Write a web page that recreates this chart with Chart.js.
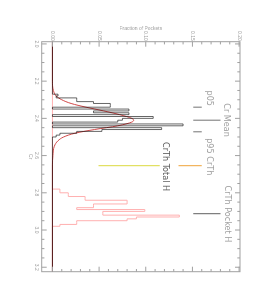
<!DOCTYPE html>
<html>
<head>
<meta charset="utf-8">
<script src="https://cdn.jsdelivr.net/npm/chart.js@4.4.1/dist/chart.umd.min.js"></script>
<style>
html, body { margin: 0; padding: 0; background: #fff; overflow: hidden; }
/* the plot is drawn landscape and turned a quarter clockwise */
#wrap { position: absolute; left: 0; top: 0; width: 300px; height: 273px;
        transform-origin: 0 0; transform: translateX(273px) rotate(90deg); }
</style>
</head>
<body>
<div id="wrap"><canvas id="myChart" width="300" height="273"></canvas></div>
<script>
// histogram bins (0.01 Cr wide)
const binWidth = 0.01;
const crBinStart = 2.27;
const crFraction = [0.006, 0.006, 0.004, 0.026, 0.026, 0.044, 0.062, 0.062, 0.0, 0.082,
                    0.044, 0.082, 0.0, 0.108, 0.075, 0.070, 0.0, 0.140, 0.0, 0.117,
                    0.053, 0.026, 0.008, 0.004];
const pocketBinStart = 2.78;
const pocketFraction = [0.008, 0.008, 0.008, 0.017, 0.017, 0.035, 0.035, 0.080, 0.080, 0.044,
                        0.044, 0.026, 0.099, 0.054, 0.054, 0.136, 0.090, 0.080, 0.026, 0.026,
                        0.008];

// fitted curve (red)
const curveCr       = [1.90, 2.20, 2.25, 2.28, 2.30, 2.32, 2.34, 2.36, 2.38, 2.40, 2.41, 2.42,
                       2.44, 2.46, 2.48, 2.50, 2.52, 2.55, 2.60, 2.65, 3.30];
const curveFraction = [0, 0, 0.001, 0.004, 0.010, 0.020, 0.036, 0.055, 0.072, 0.085, 0.087, 0.085,
                       0.070, 0.045, 0.024, 0.012, 0.006, 0.002, 0.0005, 0, 0];

// marker lines
const markerNames = ['Cr Mean', 'p05', 'p95', 'CrTh', 'CrTh Total H', 'CrTh Pocket H'];
const markerCr    = [2.410, 2.340, 2.472, 2.654, 2.654, 2.912];
const markerLow   = [0.151, 0.151, 0.151, 0.135, 0.0495, 0.151];
const markerHigh  = [0.180, 0.160, 0.160, 0.160, 0.115, 0.180];

// ticks
const crTicks = [2.0, 2.2, 2.4, 2.6, 2.8, 3.0, 3.2];
const fracTicks = [0.00, 0.05, 0.10, 0.15, 0.20];

// where each marker name is written
const labelCr   = [2.409, 2.292, 2.548, 2.655, 2.659, 2.914];
const labelFrac = [0.1866, 0.168, 0.168, 0.168, 0.121, 0.1876];
const markerColors = ['#8a8a8a', '#8a8a8a', '#8a8a8a', '#f2b35a', '#e2df5e', '#7a7a7a'];
const labelColors  = ['#a0a0a0', '#a0a0a0', '#a0a0a0', '#a0a0a0', '#5a5a5a', '#a0a0a0'];

function histPoints(start, values) {
	let pts = [{x: 1.9, y: 0}, {x: start, y: 0}];
	values.forEach(function (v, i) {
		pts.push({x: +(start + i * binWidth).toFixed(3), y: v});
	});
	pts.push({x: +(start + values.length * binWidth).toFixed(3), y: 0});
	pts.push({x: 3.3, y: 0});
	return pts;
}

let datasets = [];
markerNames.forEach(function (n, i) {
	datasets.push({
		label: n,
		data: [{x: markerCr[i], y: markerLow[i]}, {x: markerCr[i], y: markerHigh[i]}],
		borderColor: markerColors[i],
		borderWidth: 1.2,
		pointRadius: 0,
		order: 3
	});
});
datasets.push({
	label: 'Cr',
	data: histPoints(crBinStart, crFraction),
	stepped: 'after',
	borderColor: 'rgba(0,0,0,0.6)',
	borderWidth: 1,
	pointRadius: 0,
	order: 1
});
datasets.push({
	label: 'CrTh pockets',
	data: histPoints(pocketBinStart, pocketFraction),
	stepped: 'after',
	borderColor: '#ffb0b0',
	borderWidth: 1,
	pointRadius: 0,
	order: 4
});
datasets.push({
	label: 'fit',
	data: curveCr.map(function (c, i) { return {x: c, y: curveFraction[i]}; }),
	borderColor: '#d04848',
	borderWidth: 1,
	pointRadius: 0,
	cubicInterpolationMode: 'monotone',
	order: 2
});

const axisGray = '#a0a0a0';

// frame with inward ticks on all four sides, plus the marker names
const idlFrame = {
	id: 'idlFrame',
	afterDatasetsDraw: function (chart) {
		const ctx = chart.ctx, a = chart.chartArea;
		const xs = chart.scales.x, ys = chart.scales.y;
		ctx.save();
		ctx.strokeStyle = axisGray;
		ctx.lineWidth = 1;
		ctx.strokeRect(a.left, a.top, a.right - a.left, a.bottom - a.top);
		ctx.beginPath();
		for (let v = 2.0; v <= 3.2001; v += 0.05) {
			const px = xs.getPixelForValue(v);
			const len = Math.abs(v * 5 - Math.round(v * 5)) < 0.01 ? 5 : 2.7;
			ctx.moveTo(px, a.bottom); ctx.lineTo(px, a.bottom - len);
			ctx.moveTo(px, a.top); ctx.lineTo(px, a.top + len);
		}
		for (let v = 0; v <= 0.2001; v += 0.01) {
			const py = ys.getPixelForValue(v);
			const len = Math.abs(v * 20 - Math.round(v * 20)) < 0.01 ? 5 : 2.7;
			ctx.moveTo(a.left, py); ctx.lineTo(a.left + len, py);
			ctx.moveTo(a.right, py); ctx.lineTo(a.right - len, py);
		}
		ctx.stroke();

		ctx.font = '9px "Liberation Sans Narrow", "DejaVu Sans Condensed", "Liberation Sans", sans-serif';
		ctx.textAlign = 'center';
		ctx.textBaseline = 'middle';
		markerNames.forEach(function (n, i) {
			ctx.fillStyle = labelColors[i];
			ctx.fillText(n, xs.getPixelForValue(labelCr[i]), ys.getPixelForValue(labelFrac[i]));
		});
		ctx.restore();
	}
};

const config = {
	type: 'line',
	data: { datasets: datasets },
	options: {
		responsive: false,
		animation: false,
		devicePixelRatio: 1,
		layout: { padding: { left: 25.7, right: 28.3, top: 33, bottom: 27 } },
		plugins: { legend: { display: false }, tooltip: { enabled: false } },
		scales: {
			x: {
				type: 'linear',
				min: 1.988,
				max: 3.224,
				afterFit: function (s) { s.height = 14.7; },
				afterBuildTicks: function (s) { s.ticks = crTicks.map(function (v) { return {value: v}; }); },
				grid: { display: false, drawTicks: false },
				border: { display: false },
				ticks: {
					autoSkip: false, maxRotation: 0, padding: 2,
					color: axisGray,
					font: { size: 5, family: 'Liberation Sans' },
					callback: function (v) { return v.toFixed(1); }
				},
				title: { display: true, text: 'Cr', color: axisGray, padding: 0,
				         font: { size: 5, family: 'Liberation Sans' } }
			},
			y: {
				min: -0.0115,
				max: 0.201,
				afterFit: function (s) { s.width = 16; },
				afterBuildTicks: function (s) { s.ticks = fracTicks.map(function (v) { return {value: v}; }); },
				grid: { display: false, drawTicks: false },
				border: { display: false },
				ticks: {
					autoSkip: false, padding: 1,
					color: axisGray,
					font: { size: 5, family: 'Liberation Sans' },
					callback: function (v) { return v.toFixed(2); }
				},
				title: { display: true, text: 'Fraction of Pockets', color: axisGray, padding: 0,
				         font: { size: 5, family: 'Liberation Sans' } }
			}
		}
	},
	plugins: [idlFrame]
};

var myChart = new Chart(document.getElementById('myChart'), config);
</script>
</body>
</html>
